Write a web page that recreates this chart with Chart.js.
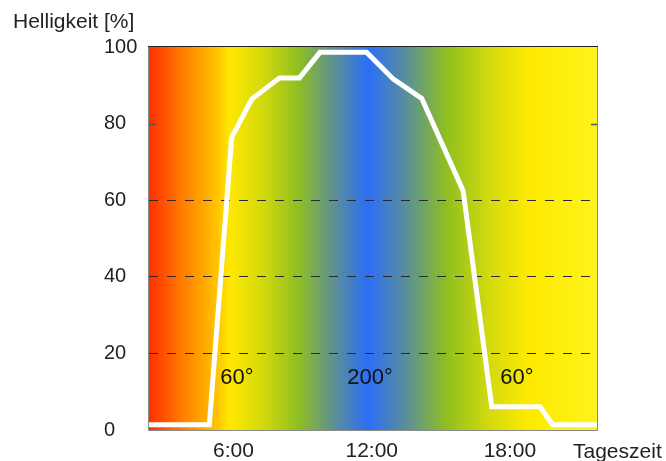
<!DOCTYPE html>
<html><head><meta charset="utf-8">
<script src="https://cdn.jsdelivr.net/npm/chart.js@4.4.1/dist/chart.umd.min.js"></script>
<style>html,body{margin:0;padding:0;background:#fff;}#wrap{width:666px;height:461px;}</style>
</head><body><div id="wrap"><canvas id="c" width="666" height="461"></canvas></div>
<script>
// ---- data ----
const hours      = [2.33, 4.95, 5.92, 6.79, 7.99, 8.86, 9.75, 11.78, 12.94, 14.17, 15.97, 17.21, 19.31, 19.85, 21.78];
const brightness = [1.4,  1.4,  76.4, 86.4, 91.9, 91.9, 98.6, 98.6,  91.6,  86.6,  62.4,  6.1,   6.1,   1.4,   1.4];
const xTickHours  = [6, 12, 18];
const xTickLabels = ['6:00', '12:00', '18:00'];
const yTicks = [0, 20, 40, 60, 80, 100];
const dashedLevels = [20, 40, 60];
const zoneLabels = ['60°', '200°', '60°'];
const zoneHours  = [6.15, 11.93, 18.3];
const zoneLevel  = 13.6;
const yTitle = 'Helligkeit [%]';
const xTitle = 'Tageszeit';

const FONT = "'Liberation Sans', Arial, sans-serif";

const bgPlugin = {
  id: 'bg',
  beforeDraw(chart) {
    const {ctx, chartArea: a} = chart;
    const g = ctx.createLinearGradient(a.left, 0, a.right, 0);
    const stops = [
      [0.00, '#ff3000'], [0.08, '#ff8200'], [0.15, '#ffc200'], [0.18, '#ffe800'],
      [0.25, '#d6da0c'], [0.333, '#8fbf20'], [0.415, '#5c8f96'], [0.489, '#2b6ef7'],
      [0.575, '#5a8f98'], [0.664, '#8fbf20'], [0.76, '#d4da0e'], [0.85, '#ffea00'],
      [1.00, '#fdf31c']
    ];
    stops.forEach(s => g.addColorStop(s[0], s[1]));
    ctx.save();
    ctx.fillStyle = g;
    ctx.fillRect(a.left, a.top, a.right - a.left, a.bottom - a.top);
    ctx.restore();
  },
  afterDatasetsDraw(chart) {
    const {ctx, chartArea: a, scales} = chart;
    ctx.save();
    ctx.lineWidth = 1;
    ctx.strokeStyle = '#8a8a8a';
    ctx.beginPath();
    ctx.moveTo(a.left - 0.5, a.top); ctx.lineTo(a.left - 0.5, a.bottom + 0.5);
    ctx.lineTo(a.right + 0.5, a.bottom + 0.5); ctx.lineTo(a.right + 0.5, a.top);
    ctx.stroke();
    ctx.strokeStyle = '#222';
    ctx.beginPath();
    ctx.moveTo(a.left - 1, a.top - 0.5); ctx.lineTo(a.right + 1, a.top - 0.5);
    ctx.stroke();
    const y80 = Math.round(scales.y.getPixelForValue(80)) + 0.5;
    ctx.strokeStyle = '#555';
    ctx.lineWidth = 1.5;
    ctx.beginPath();
    ctx.moveTo(a.left, y80); ctx.lineTo(a.left + 7, y80);
    ctx.moveTo(a.right - 6, y80); ctx.lineTo(a.right, y80);
    ctx.stroke();
    ctx.fillStyle = '#111';
    ctx.font = '22px ' + FONT;
    ctx.textAlign = 'center';
    ctx.textBaseline = 'middle';
    zoneLabels.forEach((t, i) => {
      ctx.fillText(t, scales.x.getPixelForValue(zoneHours[i]), scales.y.getPixelForValue(zoneLevel));
    });
    ctx.restore();
  },
  afterDraw(chart) {
    const {ctx} = chart;
    ctx.save();
    ctx.fillStyle = '#222';
    ctx.font = '21px ' + FONT;
    ctx.textAlign = 'left';
    ctx.textBaseline = 'middle';
    ctx.fillText(yTitle, 13, 22);
    ctx.fillText(xTitle, 573, 452);
    ctx.restore();
  }
};

new Chart(document.getElementById('c'), {
  type: 'line',
  data: {
    datasets: [{
      data: hours.map((h, i) => ({x: h, y: brightness[i]})),
      borderColor: '#ffffff',
      borderWidth: 5,
      pointRadius: 0,
      tension: 0,
      fill: false,
      clip: 0,
      borderJoinStyle: 'miter'
    }]
  },
  options: {
    responsive: false,
    devicePixelRatio: 1,
    animation: false,
    layout: {padding: {top: 47, right: 69, left: 104, bottom: 0}},
    plugins: {legend: {display: false}, tooltip: {enabled: false}},
    scales: {
      x: {
        type: 'linear',
        min: hours[0], max: hours[hours.length - 1],
        afterBuildTicks: s => { s.ticks = xTickHours.map(v => ({value: v})); },
        afterFit: s => { s.height = 31; },
        ticks: {
          autoSkip: false, maxRotation: 0, padding: 9,
          color: '#222', font: {family: FONT, size: 21},
          callback: v => xTickLabels[xTickHours.indexOf(v)]
        },
        grid: {display: false, drawTicks: false},
        border: {display: false}
      },
      y: {
        min: 0, max: 100,
        afterBuildTicks: s => { s.ticks = yTicks.map(v => ({value: v})); },
        afterFit: s => { s.width = 45; },
        ticks: {
          crossAlign: 'far', padding: 0,
          color: '#222', font: {family: FONT, size: 20}
        },
        grid: {
          drawTicks: false,
          color: c => dashedLevels.includes(c.tick && c.tick.value) ? '#2a2a2a' : 'rgba(0,0,0,0)',
          lineWidth: 1
        },
        border: {display: false, dash: [9, 9]}
      }
    }
  },
  plugins: [bgPlugin]
});
</script>
</body></html>
